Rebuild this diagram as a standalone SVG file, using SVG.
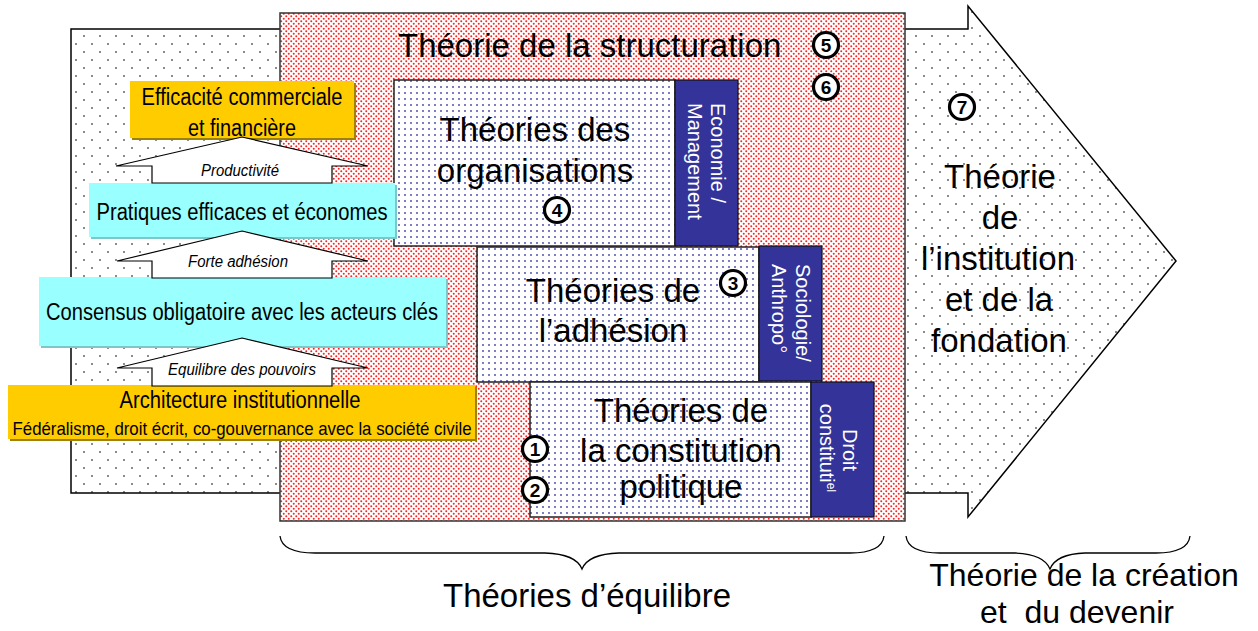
<svg xmlns="http://www.w3.org/2000/svg" width="1258" height="631" viewBox="0 0 1258 631">
<defs>
<pattern id="pGray" width="16" height="16" patternUnits="userSpaceOnUse">
<rect width="16" height="16" fill="#fff"/>
<circle cx="4" cy="4" r="0.9" fill="#555"/>
<circle cx="12" cy="12" r="0.9" fill="#555"/>
</pattern>
<pattern id="pRed" width="5" height="5" patternUnits="userSpaceOnUse">
<rect width="5" height="5" fill="#fff"/>
<circle cx="1.25" cy="1.25" r="1" fill="#f22"/>
<circle cx="3.75" cy="3.75" r="1" fill="#f22"/>
</pattern>
<pattern id="pBlue" width="6" height="6" patternUnits="userSpaceOnUse">
<rect width="6" height="6" fill="#fff"/>
<circle cx="3" cy="3" r="0.9" fill="#4040a8"/>
</pattern>
<style>
.t{font-family:"Liberation Sans",Arial,sans-serif;fill:#000}
.big{font-size:33px}
.nar{font-family:"Liberation Sans Narrow","Liberation Sans",Arial,sans-serif;font-size:23px;fill:#000}
.it{font-family:"Liberation Sans Narrow","Liberation Sans",Arial,sans-serif;font-size:16px;font-style:italic;fill:#000}
.vt{font-family:"Liberation Sans",Arial,sans-serif;font-size:20px;fill:#fff}
.theory{fill:url(#pBlue);stroke:#222;stroke-width:1.5}
.disc{fill:#333399;stroke:#111;stroke-width:1.2}
.yel{fill:#ffcc00}
.yels{fill:#9c8200}
.cy{fill:#99ffff}
.cys{fill:#7cc8c8}
.uparrow{fill:#fff;stroke:#000;stroke-width:1.2}
.num circle{fill:#fff;stroke:#000;stroke-width:3.2}
.num text{font-family:"Liberation Sans",Arial,sans-serif;font-size:19px;font-weight:bold;text-anchor:middle;fill:#000}
.brace{fill:none;stroke:#000;stroke-width:1.3}
.mid{text-anchor:middle}
</style>
</defs>

<g id="institution-arrow">
<polygon points="71,29 968,29 968,6 1176,261 968,517 968,493 71,493" fill="url(#pGray)" stroke="#000" stroke-width="1.5"/>
</g>

<g id="structuration">
<rect x="280" y="13" width="625" height="508" fill="url(#pRed)" stroke="#333" stroke-width="1.5"/>
<text class="t big" x="398" y="57">Théorie de la structuration</text>
</g>

<g id="organisations">
<rect class="theory" x="394" y="80" width="281" height="166"/>
<text class="t big mid" x="535" y="141">Théories des</text>
<text class="t big mid" x="535" y="182">organisations</text>
</g>
<g id="economie">
<rect class="disc" x="675" y="80" width="63" height="166"/>
<text class="vt" transform="translate(711,103) rotate(90)">Economie /</text>
<text class="vt" transform="translate(688,103) rotate(90)">Management</text>
</g>

<g id="adhesion">
<rect class="theory" x="477" y="247" width="282" height="135"/>
<text class="t big mid" x="613" y="302">Théories de</text>
<text class="t big mid" x="613" y="342">l’adhésion</text>
</g>
<g id="sociologie">
<rect class="disc" x="759" y="246" width="63" height="135"/>
<text class="vt" transform="translate(796,264) rotate(90)">Sociologie/</text>
<text class="vt" transform="translate(772,264) rotate(90)">Anthropo°</text>
</g>

<g id="constitution">
<rect class="theory" x="530" y="382" width="281" height="135"/>
<text class="t big mid" x="681" y="422">Théories de</text>
<text class="t big mid" x="681" y="462">la constitution</text>
<text class="t big mid" x="681" y="498">politique</text>
</g>
<g id="droit">
<rect class="disc" x="811" y="382" width="63" height="135"/>
<text class="vt mid" transform="translate(843,450) rotate(90)">Droit</text>
<text class="vt mid" transform="translate(820,448) rotate(90)">constituti<tspan font-size="12" baseline-shift="super">el</tspan></text>
</g>

<g id="efficacite">
<rect class="yels" x="132" y="83" width="224" height="57"/>
<rect class="yel" x="130" y="81" width="224" height="57"/>
<text class="nar mid" x="242" y="105" textLength="201" lengthAdjust="spacingAndGlyphs">Efficacité commerciale</text>
<text class="nar mid" x="242" y="136" textLength="108" lengthAdjust="spacingAndGlyphs">et financière</text>
</g>

<g id="pratiques">
<rect class="cys" x="91" y="185" width="306" height="54"/>
<rect class="cy" x="89" y="183" width="306" height="54"/>
<text class="nar mid" x="242" y="220" textLength="291" lengthAdjust="spacingAndGlyphs">Pratiques efficaces et économes</text>
</g>

<g id="consensus">
<rect class="cys" x="41" y="279" width="407" height="69"/>
<rect class="cy" x="39" y="277" width="407" height="69"/>
<text class="nar mid" x="242" y="320" textLength="392" lengthAdjust="spacingAndGlyphs">Consensus obligatoire avec les acteurs clés</text>
</g>

<g id="architecture">
<rect class="yels" x="10" y="387" width="467" height="54"/>
<rect class="yel" x="8" y="385" width="467" height="54"/>
<text class="nar mid" x="240" y="408" textLength="241" lengthAdjust="spacingAndGlyphs">Architecture institutionnelle</text>
<text class="nar mid" x="242" y="435" style="font-size:19px" textLength="459" lengthAdjust="spacingAndGlyphs">Fédéralisme, droit écrit, co-gouvernance avec la société civile</text>
</g>

<g id="connectors">
<g id="arrow-productivite">
<polygon class="uparrow" points="242,137 368,166 332,166 332,183 152,183 152,166 116,166"/>
<text class="it mid" x="240" y="176" textLength="78" lengthAdjust="spacingAndGlyphs">Productivité</text>
</g>
<g id="arrow-adhesion">
<polygon class="uparrow" points="242,231 368,261 332,261 332,278 152,278 152,261 117,261"/>
<text class="it mid" x="238" y="267" textLength="100" lengthAdjust="spacingAndGlyphs">Forte adhésion</text>
</g>
<g id="arrow-equilibre">
<polygon class="uparrow" points="242,338 368,368 332,368 332,386 152,386 152,368 117,368"/>
<text class="it mid" x="242" y="375" textLength="148" lengthAdjust="spacingAndGlyphs">Equilibre des pouvoirs</text>
</g>
</g>

<g id="numbers" class="num">
<g id="n5"><circle cx="826" cy="45" r="12.5"/><text x="826" y="52">5</text></g>
<g id="n6"><circle cx="826" cy="87" r="12.5"/><text x="826" y="94">6</text></g>
<g id="n4"><circle cx="557" cy="210" r="12.5"/><text x="557" y="217">4</text></g>
<g id="n3"><circle cx="733" cy="283" r="12.5"/><text x="733" y="290">3</text></g>
<g id="n1"><circle cx="535" cy="449" r="12.5"/><text x="535" y="456">1</text></g>
<g id="n2"><circle cx="535" cy="490" r="12.5"/><text x="535" y="497">2</text></g>
<g id="n7"><circle cx="962" cy="107" r="12.5"/><text x="962" y="114">7</text></g>
</g>

<g id="institution-label">
<text class="t big mid" x="1000" y="188">Théorie</text>
<text class="t big mid" x="1000" y="229">de</text>
<text class="t big mid" x="998" y="270">l’institution</text>
<text class="t big mid" x="999" y="311">et de la</text>
<text class="t big mid" x="999" y="352">fondation</text>
</g>

<g id="brace-equilibre">
<path class="brace" d="M280,536 Q282,553 315,553 L545,553 Q576,554 582,569 Q588,554 619,553 L850,553 Q882,553 884,536"/>
<text class="t big mid" x="587" y="607">Théories d’équilibre</text>
</g>

<g id="brace-creation">
<path class="brace" d="M906,536 Q908,553 940,553 L1015,553 Q1044,554 1050,569 Q1056,554 1085,553 L1156,553 Q1188,553 1190,536"/>
<text class="t mid" style="font-size:32px" x="1084" y="586">Théorie de la création</text>
<text class="t mid" style="font-size:32px" x="1077" y="623" xml:space="preserve">et  du devenir</text>
</g>
</svg>
